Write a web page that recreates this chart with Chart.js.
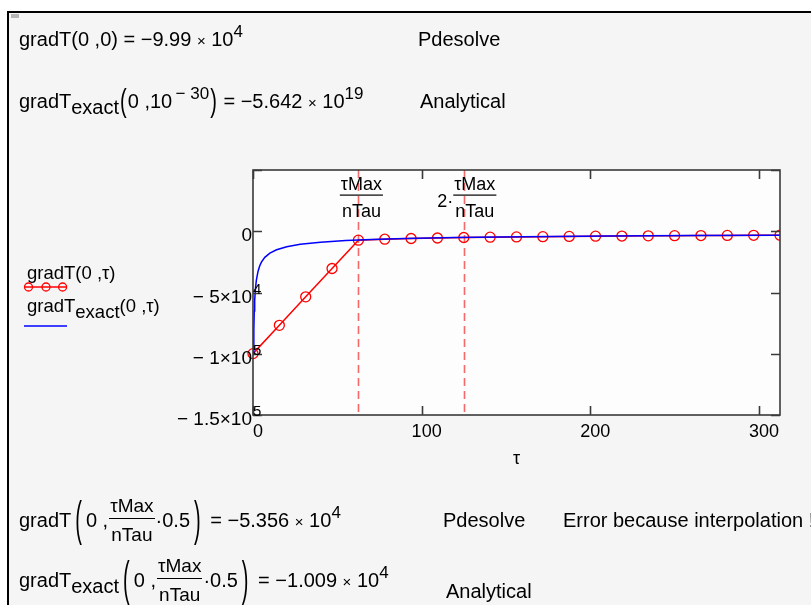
<!DOCTYPE html>
<html><head><meta charset="utf-8">
<script src="https://cdn.jsdelivr.net/npm/chart.js@4/dist/chart.umd.min.js"></script>
<style>
html,body{margin:0;padding:0;background:#fff;width:811px;height:605px;overflow:hidden;font-family:'Liberation Sans',Arial,sans-serif;color:#000}
#sheet{position:absolute;left:7px;top:11px;width:804px;height:594px;border-left:2px solid #000;border-top:2px solid #000;background:#f5f5f5;box-sizing:border-box;z-index:0}
#mark{position:absolute;left:11px;top:14px;width:8px;height:4px;background:#b8b8b8;z-index:3}
#c{position:absolute;left:0;top:0;z-index:1}
.t{position:absolute;font-size:20px;line-height:20px;white-space:nowrap;z-index:2}
.t.lg{font-size:18.5px;line-height:18px}
.t sup{font-size:17px;vertical-align:9px;line-height:0}
.t sub{font-size:inherit;vertical-align:-6px;line-height:0}
.x{font-size:15px}
.mp{display:inline-block;transform:scaleY(1.55);transform-origin:50% 58%;margin:0 1px}
.bp{display:inline-block;transform:scaleY(2.4);transform-origin:50% 58%;margin:0 4px}
.fr{display:inline-flex;flex-direction:column;align-items:center;vertical-align:15px;margin:0 1px;font-size:19px}
.fr .n{line-height:20px;border-bottom:1px solid #000;padding:0 1px 2px}
.fr .d{line-height:19px;padding-top:6px}
svg{position:absolute;z-index:2}
</style></head>
<body>
<div id="sheet"></div>
<div id="mark"></div>
<canvas id="c" width="811" height="605"></canvas>

<div class="t" data-b="46" style="left:19px">gradT(0 ,0) = −9.99 <span class="x">×</span> 10<sup>4</sup></div>
<div class="t" data-b="46" style="left:418px">Pdesolve</div>
<div class="t" data-b="108" style="left:19px">gradT<sub>exact</sub><span class="mp">(</span>0 ,10<sup>&thinsp;− 30</sup><span class="mp">)</span> = −5.642 <span class="x">×</span> 10<sup>19</sup></div>
<div class="t" data-b="108" style="left:420px">Analytical</div>

<div class="t lg" data-b="279" style="left:27px">gradT(0 ,τ)</div>
<svg style="left:20px;top:280px" width="52" height="14">
<line x1="4" y1="7" x2="47" y2="7" stroke="#f00" stroke-width="1.3"/>
<circle cx="8.5" cy="7" r="4" fill="none" stroke="#f00" stroke-width="1.3"/>
<circle cx="26" cy="7" r="4" fill="none" stroke="#f00" stroke-width="1.3"/>
<circle cx="42.6" cy="7" r="4" fill="none" stroke="#f00" stroke-width="1.3"/>
</svg>
<div class="t lg" data-b="312" style="left:27px">gradT<sub>exact</sub>(0 ,τ)</div>
<svg style="left:20px;top:319px" width="52" height="14">
<line x1="4" y1="7" x2="47" y2="7" stroke="#00f" stroke-width="1.3"/>
</svg>

<div class="t" data-b="527" style="left:19px">gradT<span class="bp">(</span>0 ,<span class="fr"><span class="n">τMax</span><span class="d">nTau</span></span>·0.5<span class="bp">)</span> = −5.356 <span class="x">×</span> 10<sup>4</sup></div>
<div class="t" data-b="527" style="left:443px">Pdesolve</div>
<div class="t" data-b="527" style="left:563px">Error because interpolation !!</div>
<div class="t" data-b="587" style="left:19px">gradT<sub>exact</sub><span class="bp">(</span>0 ,<span class="fr"><span class="n">τMax</span><span class="d">nTau</span></span>·0.5<span class="bp">)</span> = −1.009 <span class="x">×</span> 10<sup>4</sup></div>
<div class="t" data-b="598" style="left:446px">Analytical</div>

<script>
// ---- data ----
const redTau = [0, 15.625, 31.25, 46.875, 62.5, 78.125, 93.75, 109.375, 125, 140.625, 156.25,
                171.875, 187.5, 203.125, 218.75, 234.375, 250, 265.625, 281.25, 296.875, 312.5];
const redGrad = [-99900, -76800, -53560, -30400, -7300, -6500, -5900, -5500, -5100, -4800, -4600,
                 -4400, -4200, -4000, -3900, -3750, -3600, -3500, -3400, -3300, -3200];
const exactTau = [0.32, 0.5, 0.75, 1, 1.5, 2, 3, 4, 5, 7, 10, 14, 20, 28, 40, 55, 70, 90, 120, 160, 210, 260, 312.5];
const exactGrad = [-100000, -79800, -65100, -56400, -46100, -39900, -32600, -28200, -25200, -21300, -17800,
                   -15100, -12600, -10700, -8900, -7600, -6700, -5900, -5200, -4500, -3900, -3500, -3200];
const xTicks = [0, 100, 200, 300];
const yTicks = [-150000, -100000, -50000, 0, 50000];
const yTickLabels = ['− 1.5×10^5', '− 1×10^5', '− 5×10^4', '0', ''];
const markerTau = [62.5, 125];
const markerPrefix = ['', '2·'];
const markerNum = 'τMax';
const markerDen = 'nTau';
const xTitle = 'τ';

// baseline placement of html text
document.querySelectorAll('.t').forEach(el => {
  const m = document.createElement('span');
  m.style.cssText = 'display:inline-block;width:0;height:0;vertical-align:baseline';
  el.appendChild(m);
  const off = m.getBoundingClientRect().top - el.getBoundingClientRect().top;
  el.style.top = (parseFloat(el.dataset.b) - off) + 'px';
});

const FONT = '"Liberation Sans", Arial, sans-serif';

const frame = {
  id: 'frame',
  beforeDatasetsDraw(c) {
    const {ctx, chartArea: a, scales: {x}} = c;
    ctx.save();
    ctx.fillStyle = '#fdfdfd';
    ctx.fillRect(a.left, a.top, a.right - a.left, a.bottom - a.top);
    ctx.strokeStyle = '#f26a6a';
    ctx.lineWidth = 1.6;
    ctx.setLineDash([8, 5]);
    markerTau.forEach(t => {
      const px = Math.round(x.getPixelForValue(t)) + 0.5;
      ctx.beginPath(); ctx.moveTo(px, a.top); ctx.lineTo(px, a.bottom); ctx.stroke();
    });
    ctx.restore();
  },
  afterDatasetsDraw(c) {
    const {ctx, chartArea: a, scales: {x, y}} = c;
    ctx.save();
    // box
    ctx.strokeStyle = '#3a3a3a';
    ctx.lineWidth = 1.6;
    ctx.strokeRect(a.left, a.top, a.right - a.left, a.bottom - a.top);
    // inward ticks
    ctx.beginPath();
    xTicks.forEach(v => {
      const px = Math.round(x.getPixelForValue(v)) + 0.5;
      ctx.moveTo(px, a.top); ctx.lineTo(px, a.top + 9);
      ctx.moveTo(px, a.bottom); ctx.lineTo(px, a.bottom - 9);
    });
    yTicks.forEach(v => {
      const py = Math.round(y.getPixelForValue(v)) + 0.5;
      ctx.moveTo(a.left, py); ctx.lineTo(a.left + 9, py);
      ctx.moveTo(a.right, py); ctx.lineTo(a.right - 9, py);
    });
    ctx.stroke();
    // y labels with exponent
    ctx.fillStyle = '#000';
    ctx.textBaseline = 'alphabetic';
    yTicks.forEach((v, i) => {
      const lab = yTickLabels[i];
      if (!lab) return;
      const py = y.getPixelForValue(v);
      const [m, e] = lab.split('^');
      ctx.font = '19px ' + FONT;
      ctx.textAlign = 'right';
      ctx.fillText(m, a.left - 1, py + 10);
      if (e) {
        ctx.font = '15px ' + FONT;
        ctx.textAlign = 'left';
        ctx.fillText(e, a.left, py + 1);
      }
    });
    // marker fraction labels
    ctx.font = '18px ' + FONT;
    markerTau.forEach((t, i) => {
      const px = x.getPixelForValue(t);
      const pre = markerPrefix[i];
      const xc = px + (pre ? 11 : 3);
      ctx.textAlign = 'center';
      ctx.fillText(markerNum, xc, a.top + 20);
      ctx.fillText(markerDen, xc, a.top + 47);
      const w = Math.max(ctx.measureText(markerNum).width, ctx.measureText(markerDen).width);
      ctx.fillRect(xc - w / 2 - 1, a.top + 24.5, w + 2, 1.2);
      if (pre) {
        ctx.textAlign = 'right';
        ctx.fillText(pre, xc - w / 2 - 1, a.top + 37);
      }
    });
    ctx.restore();
  }
};

new Chart(document.getElementById('c'), {
  type: 'scatter',
  data: {
    datasets: [
      {
        label: 'gradT(0,τ)',
        data: redTau.map((t, i) => ({x: t, y: redGrad[i]})),
        showLine: true,
        borderColor: '#ff0000',
        borderWidth: 1.5,
        pointRadius: 5,
        pointBorderColor: '#ff0000',
        pointBackgroundColor: 'rgba(0,0,0,0)',
        pointBorderWidth: 1.3,
        tension: 0,
        clip: {left: 10, top: 0, right: 0, bottom: 0},
        order: 2
      },
      {
        label: 'gradT_exact(0,τ)',
        data: exactTau.map((t, i) => ({x: t, y: exactGrad[i]})),
        showLine: true,
        borderColor: '#0000ff',
        borderWidth: 1.5,
        pointRadius: 0,
        tension: 0,
        clip: 0,
        order: 1
      }
    ]
  },
  options: {
    responsive: false,
    devicePixelRatio: 1,
    animation: false,
    events: [],
    layout: {padding: {left: 253, top: 170, right: 31, bottom: 0}},
    plugins: {legend: {display: false}, tooltip: {enabled: false}},
    scales: {
      x: {
        type: 'linear', min: 0, max: 312.5,
        afterBuildTicks: s => { s.ticks = xTicks.map(v => ({value: v})); },
        afterFit: s => { s.height = 190; },
        ticks: {font: {family: 'Liberation Sans', size: 18}, color: '#000', padding: 6, labelOffset: 5, maxRotation: 0},
        grid: {display: false, drawTicks: false},
        border: {display: false},
        title: {display: true, text: xTitle, color: '#000', font: {family: 'Liberation Sans', size: 18}, padding: {top: 0, bottom: 135}}
      },
      y: {
        type: 'linear', min: -150000, max: 50000, display: false,
        afterBuildTicks: s => { s.ticks = yTicks.map(v => ({value: v})); }
      }
    }
  },
  plugins: [frame]
});
</script>
</body></html>
